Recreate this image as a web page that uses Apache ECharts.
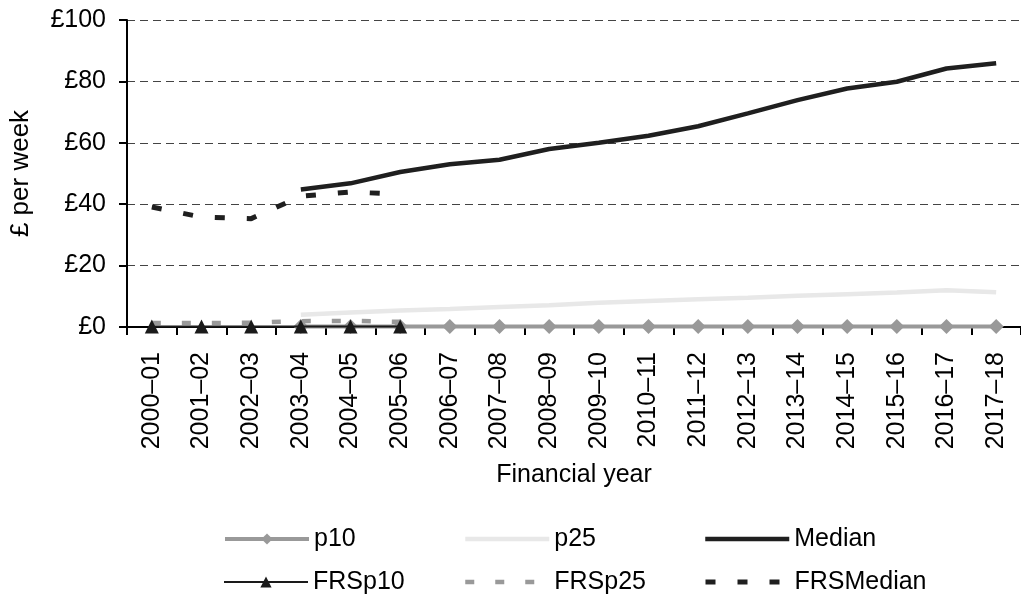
<!DOCTYPE html>
<html>
<head>
<meta charset="utf-8">
<script src="https://cdn.jsdelivr.net/npm/echarts@6/dist/echarts.min.js"></script>
<style>
  html, body { margin: 0; padding: 0; background: #fff; }
  #chart { width: 1021px; height: 599px; }
</style>
</head>
<body>
<div id="chart"></div>
<script>
const categories = ['2000–01', '2001–02', '2002–03', '2003–04', '2004–05', '2005–06', '2006–07', '2007–08', '2008–09',
  '2009–10', '2010–11', '2011–12', '2012–13', '2013–14', '2014–15', '2015–16', '2016–17', '2017–18'];

// DWP series (from 2003-04)
const p10 = [null, null, null, 0.2, 0.2, 0.2, 0.2, 0.2, 0.2, 0.2, 0.2, 0.2, 0.2, 0.2, 0.2, 0.2, 0.2, 0.2];
const p25 = [null, null, null, 4.0, 4.7, 5.4, 5.9, 6.5, 7.1, 7.9, 8.5, 9.0, 9.5, 10.2, 10.7, 11.2, 12.0, 11.3];
const median = [null, null, null, 44.8, 46.8, 50.5, 53.0, 54.5, 58.0, 60.0, 62.3, 65.4, 69.6, 73.9, 77.7, 79.9, 84.2, 85.9];

// FRS series (2000-01 to 2005-06)
const frsP10 = [0.2, 0.2, 0.2, 0.2, 0.2, 0.2];
const frsP25 = [1.3, 1.3, 1.4, 1.9, 2.0, 1.7];
const frsMedian = [39.1, 35.8, 35.3, 42.6, 44.0, 43.2];

const yTicks = { min: 0, max: 100, interval: 20 };

const font = 'Liberation Sans, Arial, sans-serif';
const chart = echarts.init(document.getElementById('chart'));

// one legend per entry so the 2x3 layout lines up like the original
function legendItem(name, left, top, width, hideSymbol) {
  return {
    left: left,
    top: top,
    padding: 0,
    itemWidth: 84,
    itemHeight: 14,
    selectedMode: false,
    lineStyle: { width: width },
    itemStyle: hideSymbol ? { opacity: 0 } : {},
    textStyle: { fontFamily: font, fontSize: 25, color: '#000', lineHeight: 28 },
    data: [name]
  };
}

const option = {
  animation: false,
  grid: { left: 127, top: 20, width: 900, height: 307 },
  legend: [
    legendItem('p10', 223, 525, 4, false),
    legendItem('p25', 463, 525, 4.5, true),
    legendItem('Median', 703, 525, 4.5, true),
    legendItem('FRSp10', 223, 568, 2, false),
    legendItem('FRSp25', 463, 568, 4.5, true),
    legendItem('FRSMedian', 703, 568, 5, true)
  ],
  xAxis: {
    type: 'category',
    data: categories,
    boundaryGap: true,
    name: 'Financial year',
    nameLocation: 'middle',
    nameGap: 136,
    nameTextStyle: { fontFamily: font, fontSize: 25, color: '#000' },
    axisLine: { lineStyle: { color: '#000', width: 2 } },
    axisTick: { show: true, length: 8, lineStyle: { color: '#000', width: 2 } },
    axisLabel: { rotate: 90, margin: 25, fontFamily: font, fontSize: 25, color: '#000', interval: 0 },
    splitLine: { show: false }
  },
  yAxis: {
    type: 'value',
    min: yTicks.min,
    max: yTicks.max,
    interval: yTicks.interval,
    name: '£ per week',
    nameLocation: 'middle',
    nameGap: 93,
    nameTextStyle: { fontFamily: font, fontSize: 26, color: '#000' },
    axisLine: { show: true, lineStyle: { color: '#000', width: 2 } },
    axisTick: { show: true, length: 8, lineStyle: { color: '#000', width: 2 } },
    axisLabel: { formatter: '£{value}', margin: 21, fontFamily: font, fontSize: 25, color: '#000' },
    splitLine: { show: true, lineStyle: { color: '#444', width: 1, type: [8, 5] } }
  },
  series: [
    {
      name: 'p10', type: 'line', data: p10, z: 2,
      symbol: 'diamond', symbolSize: 15, showAllSymbol: true,
      lineStyle: { color: '#999', width: 4 },
      itemStyle: { color: '#999' }
    },
    {
      name: 'p25', type: 'line', data: p25, z: 2,
      symbol: 'none',
      lineStyle: { color: '#e8e8e8', width: 4.5 },
      itemStyle: { color: '#e8e8e8' }
    },
    {
      name: 'Median', type: 'line', data: median, z: 3,
      symbol: 'none',
      lineStyle: { color: '#1f1f1f', width: 4.5 },
      itemStyle: { color: '#1f1f1f' }
    },
    {
      name: 'FRSp10', type: 'line', data: frsP10, z: 5,
      symbol: 'triangle', symbolSize: 14, showAllSymbol: true,
      lineStyle: { color: '#1a1a1a', width: 2 },
      itemStyle: { color: '#1a1a1a' }
    },
    {
      name: 'FRSp25', type: 'line', data: frsP25, z: 4,
      symbol: 'none',
      lineStyle: { color: '#999', width: 4.5, type: [9, 21] },
      itemStyle: { color: '#999' }
    },
    {
      name: 'FRSMedian', type: 'line', data: frsMedian, z: 4,
      symbol: 'none',
      lineStyle: { color: '#1f1f1f', width: 5, type: [10, 22] },
      itemStyle: { color: '#1f1f1f' }
    }
  ]
};

chart.setOption(option);
</script>
</body>
</html>
